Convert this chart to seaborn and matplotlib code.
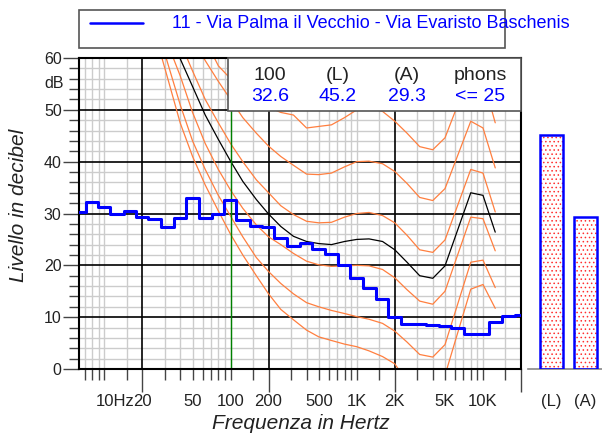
import numpy as np
import matplotlib
matplotlib.use("Agg")
import matplotlib.pyplot as plt
import matplotlib.transforms as mtransforms
from matplotlib.patches import Rectangle
from matplotlib.lines import Line2D
import seaborn as sns

# ─────────────────────────────────────────
# Data
# ─────────────────────────────────────────
# third-octave spectrum (dB)
BANDS = [6.3, 8, 10, 12.5, 16, 20, 25, 31.5, 40, 50, 63, 80, 100, 125, 160,
         200, 250, 315, 400, 500, 630, 800, 1000, 1250, 1600, 2000, 2500,
         3150, 4000, 5000, 6300, 8000, 10000, 12500, 16000, 20000]
LEVELS = [30.2, 32.2, 31.3, 29.9, 30.5, 29.3, 28.9, 27.4, 29.1, 33.0, 29.2,
          30.0, 32.6, 28.8, 27.6, 27.4, 25.2, 23.7, 24.4, 23.1, 22.2, 20.1,
          17.6, 15.6, 13.5, 10.1, 8.6, 8.6, 8.5, 8.3, 8.0, 6.7, 6.7, 9.1,
          10.3, 10.5]

# equal loudness contours (dB)
ISO_FREQ = [20, 25, 31.5, 40, 50, 63, 80, 100, 125, 160, 200, 250, 315, 400,
            500, 630, 800, 1000, 1250, 1600, 2000, 2500, 3150, 4000, 5000,
            8000, 10000, 12500]
MAF = [74, 65, 56.4, 47.4, 41, 35.5, 30.5, 26, 22, 18, 14.5, 11.5, 9.5, 7.5,
       6.2, 5.5, 4.8, 4.3, 3.5, 2.4, 1.0, -2.5, -4.5, -5, -1.2, 15.4, 16.3, 11.7]
PHON_10 = [77, 68, 59.3, 50.9, 44, 38.5, 33.5, 29.5, 25.5, 21.5, 18.8, 16.5,
           14.5, 12.8, 12.0, 11.3, 10.7, 10.1, 9.6, 8.8, 7.3, 5.2, 2.8, 2.3,
           4.7, 20.6, 21.0, 15.7]
PHON_20 = [79, 71, 63, 56.5, 49.5, 43.5, 38.5, 34.5, 31, 27.8, 25.5, 24.0,
           22.3, 20.8, 20.1, 19.8, 19.9, 20.0, 19.9, 19.2, 17.6, 15.3, 13.1,
           12.5, 15.0, 29.3, 29.0, 22.8]
PHON_25 = [82, 74, 66.5, 59.8, 54.5, 49, 44.3, 40.1, 36.2, 32.7, 29.9, 27.5,
           25.6, 24.6, 24.2, 24.0, 24.6, 25.0, 25.1, 24.6, 23.0, 20.6, 18.0,
           17.5, 19.9, 34.0, 33.5, 26.4]
PHON_30 = [86, 78, 70, 63, 57.5, 52, 47.5, 43.5, 40, 36.5, 34, 31.5, 29.8,
           28.5, 28.2, 28.3, 29.3, 30, 30.2, 29.6, 28.2, 25.8, 23.0, 22.5, 24.9,
           38.5, 37.8, 30.3]
PHON_40 = [92, 84, 77, 70, 64, 59.5, 55.5, 52, 48.5, 45.5, 43, 41, 39.3, 37.6,
           37.5, 37.8, 39, 40, 40.1, 39.6, 38.1, 35.8, 33.1, 32.5, 34.8, 47.8,
           46.5, 38.8]
PHON_50 = [98, 91, 84, 77, 70, 63.5, 58.5, 56, 54, 52, 50.5, 49.5, 49, 46.5,
           46.8, 47.1, 48.5, 50, 50.5, 49.7, 47.8, 45.5, 42.9, 42.3, 44.6, 57.5,
           56, 47.5]

BAR_LABELS = ["(L)", "(A)"]
BAR_VALUES = [45.2, 29.3]

BOX_HEAD = ["100", "(L)", "(A)", "phons"]
BOX_VALS = ["32.6", "45.2", "29.3", "<= 25"]

XLABELS = ["10Hz", "20", "50", "100", "200", "500", "1K", "2K", "5K", "10K"]
XLABEL_POS = [10, 20, 50, 100, 200, 500, 1000, 2000, 5000, 10000]

TITLE = "11 - Via Palma il Vecchio - Via Evaristo Baschenis"

# ─────────────────────────────────────────
# Style
# ─────────────────────────────────────────
sns.set_style("white")
plt.rcParams["font.family"] = ["Liberation Sans", "DejaVu Sans"]
plt.rcParams["hatch.linewidth"] = 0.6

BLUE = "#0000ff"
ORANGE = "#ff7f3f"
GRID = "#cccccc"
TICK = "#444444"
TXT = "#222222"

W, H = 602, 434
fig = plt.figure(figsize=(W / 100, H / 100), dpi=100)
fig.patch.set_facecolor("white")

L, R, T, B = 79, 521, 58, 369
ax = fig.add_axes([L / W, (H - B) / H, (R - L) / W, (B - T) / H])
ax.set_xscale("log")
ax.set_xlim(6.3, 20000)
ax.set_ylim(0, 60)

# grid: gray every 2 dB / each 1,1.5,3..9 x decade, black on 10 dB / 20x decade
majors = [20, 200, 2000, 20000]
minors = [m * d for d in [1, 10, 100, 1000, 10000]
          for m in [1, 1.5, 3, 4, 5, 6, 7, 8, 9]]
minors = [v for v in minors if 6.3 < v < 20000]
for v in minors:
    ax.axvline(v, color=GRID, linewidth=1.0, zorder=0.1)
for v in range(2, 60, 2):
    if v % 10:
        ax.axhline(v, color=GRID, linewidth=1.0, zorder=0.1)
for v in majors[:-1]:
    ax.axvline(v, color="black", linewidth=1.2, zorder=0.3)
for v in range(10, 60, 10):
    ax.axhline(v, color="black", linewidth=1.2, zorder=0.3)

ax.set_xticks(majors)
ax.set_xticks(minors, minor=True)
ax.set_yticks(np.arange(0, 61, 10))
ax.set_yticks(np.arange(0, 61, 2), minor=True)
ax.tick_params(axis="x", which="both", bottom=True, labelbottom=False,
               direction="out", color=TICK, width=1.0)
ax.tick_params(axis="x", which="major", length=16.5)
ax.tick_params(axis="x", which="minor", length=8)
ax.tick_params(axis="y", which="both", left=True, direction="out", color=TICK,
               width=1.0, labelsize=11.5, pad=1, labelcolor=TXT)
ax.tick_params(axis="y", which="major", length=11.5)
ax.tick_params(axis="y", which="minor", length=7.5)
ax.set_yticklabels([str(v) for v in range(0, 61, 10)])
for s in ax.spines.values():
    s.set_color("black")
    s.set_linewidth(1.5)

xt = ax.get_xaxis_transform()
for pos, lab in zip(XLABEL_POS, XLABELS):
    if lab == "10Hz":
        tr = mtransforms.offset_copy(xt, fig=fig, x=-9, units="dots")
        ax.text(pos, -0.106, lab, transform=tr, ha="left", va="center",
                fontsize=12, color=TXT)
    else:
        ax.text(pos, -0.106, lab, transform=xt, ha="center", va="center",
                fontsize=12, color=TXT)
ax.text(-0.035, 55, "dB", transform=ax.get_yaxis_transform(), ha="right",
        va="center", fontsize=11.5, color=TXT)

# equal loudness contours
for curve in [MAF, PHON_10, PHON_20, PHON_30, PHON_40, PHON_50]:
    sns.lineplot(x=ISO_FREQ, y=curve, ax=ax, color=ORANGE, linewidth=0.9,
                 estimator=None, sort=False, zorder=2)
sns.lineplot(x=ISO_FREQ, y=PHON_25, ax=ax, color="black", linewidth=0.9,
             estimator=None, sort=False, zorder=2.2)

ax.axvline(100, color="#008000", linewidth=1.0, zorder=2.5)

# spectrum as steps between band edges
edges = [c * 2 ** (-1 / 6) for c in BANDS] + [BANDS[-1] * 2 ** (1 / 6)]
sns.lineplot(x=edges, y=LEVELS + [LEVELS[-1]], ax=ax, color=BLUE,
             linewidth=2.2, drawstyle="steps-post", estimator=None, sort=False,
             zorder=3)

ax.set_xlabel("")
ax.set_ylabel("")
ax.text(0.502, -0.174, "Frequenza in Hertz", transform=ax.transAxes,
        ha="center", va="center", fontsize=15, style="italic", color=TXT)
ax.text(-0.138, 0.527, "Livello in decibel", transform=ax.transAxes,
        ha="center", va="center", rotation=90, fontsize=15, style="italic",
        color=TXT)

# value box
bx0 = (228 - L) / (R - L)
by0 = (B - 111) / (B - T)
ax.add_patch(Rectangle((bx0, by0), 1 - bx0, 1 - by0, transform=ax.transAxes,
                       facecolor="white", edgecolor="#555555", linewidth=1.2,
                       zorder=5, clip_on=False))
for xp, h, v in zip([270, 338, 407, 480], BOX_HEAD, BOX_VALS):
    xa = (xp - L) / (R - L)
    ax.text(xa, (B - 75) / (B - T), h, transform=ax.transAxes, ha="center",
            va="center", fontsize=14, color=TXT, zorder=6)
    ax.text(xa, (B - 96) / (B - T), v, transform=ax.transAxes, ha="center",
            va="center", fontsize=14, color=BLUE, zorder=6)

# legend box at top
fig.add_artist(Rectangle((79 / W, 1 - 48 / H), (505 - 79) / W, 38 / H,
                         transform=fig.transFigure, facecolor="white",
                         edgecolor="#555555", linewidth=1.2))
fig.add_artist(Line2D([90 / W, 143 / W], [1 - 23 / H, 1 - 23 / H],
                      transform=fig.transFigure, color=BLUE, linewidth=1.8))
fig.text(172 / W, 1 - 23 / H, TITLE, ha="left", va="center", fontsize=13,
         color=BLUE)

# bars (L) (A)
ax2 = fig.add_axes([528 / W, (H - B) / H, (W - 528) / W, (B - T) / H])
sns.barplot(x=BAR_LABELS, y=BAR_VALUES, ax=ax2, color="white", width=0.68,
            edgecolor="#ff3030", hatch="....", linewidth=0)
for p in list(ax2.patches):
    ax2.add_patch(Rectangle(p.get_xy(), p.get_width(), p.get_height(),
                            fill=False, edgecolor=BLUE, linewidth=1.8,
                            zorder=3))
ax2.set_xlim(-0.691, 1.485)
ax2.set_ylim(0, 60)
ax2.set_xticks([])
ax2.set_yticks([])
ax2.set_xlabel("")
ax2.set_ylabel("")
for k in ["top", "left", "right"]:
    ax2.spines[k].set_visible(False)
ax2.spines["bottom"].set_color("#888888")
ax2.spines["bottom"].set_linewidth(1.2)
ax2.patch.set_alpha(0)
for i, lab in enumerate(BAR_LABELS):
    ax2.text(i, -0.106, lab, transform=ax2.get_xaxis_transform(),
             ha="center", va="center", fontsize=12, color=TXT)

fig.savefig("out.png", dpi=100)
